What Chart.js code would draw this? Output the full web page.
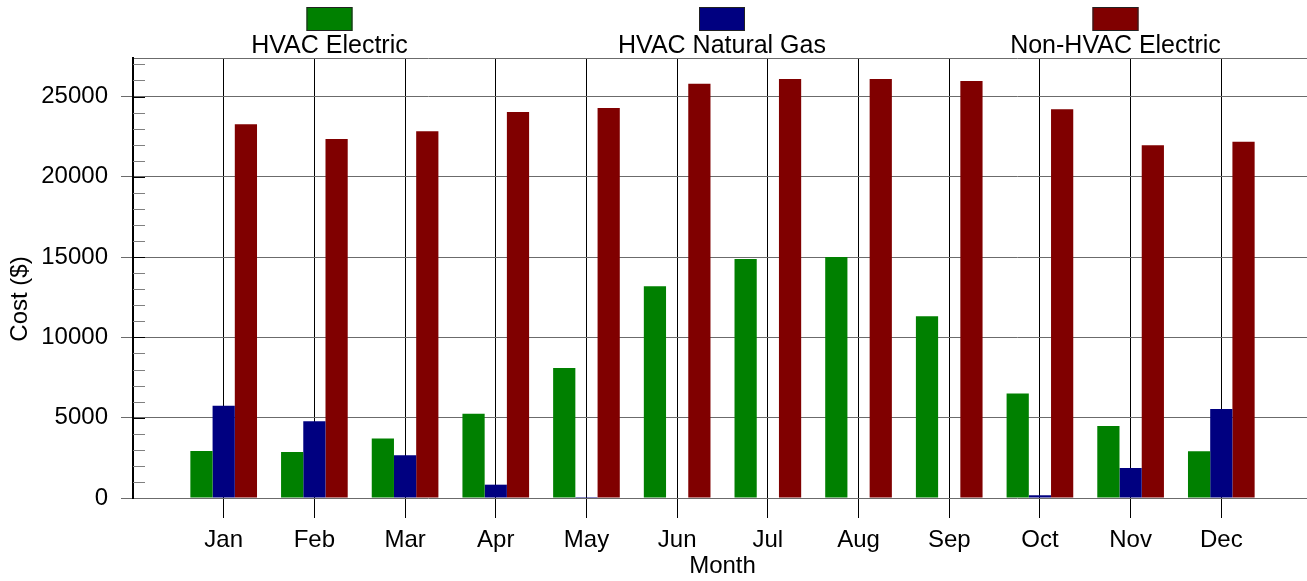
<!DOCTYPE html>
<html><head><meta charset="utf-8">
<script src="https://cdn.jsdelivr.net/npm/chart.js@4.4.1/dist/chart.umd.min.js"></script>
<style>
html,body{margin:0;padding:0;overflow:hidden;background:#fff;width:1307px;height:581px}
#wrap{width:1320px;height:581px;position:relative}
canvas{display:block}
</style></head>
<body><div id="wrap"><canvas id="c" width="1320" height="581"></canvas></div>
<script>
// ---- data ----
const months = ['Jan','Feb','Mar','Apr','May','Jun','Jul','Aug','Sep','Oct','Nov','Dec'];
const hvacElectric = [2930, 2870, 3700, 5250, 8100, 13190, 14890, 15010, 11320, 6500, 4490, 2910];
const hvacGas = [5750, 4780, 2660, 830, 60, 0, 0, 0, 0, 170, 1870, 5545];
const nonHvacElectric = [23280, 22350, 22845, 24030, 24280, 25790, 26100, 26085, 25960, 24215, 21970, 22180];
const yTickLabels = ['0','5000','10000','15000','20000','25000'];
const yMajorValues = [0, 5000, 10000, 15000, 20000, 25000];
const yMinorStep = 1000;
const seriesNames = ['HVAC Electric','HVAC Natural Gas','Non-HVAC Electric'];
const seriesColors = ['#008000','#000080','#800000'];
const yMax = 27400;
const xTitle = 'Month';
const yTitle = 'Cost ($)';

const FONT = '"Liberation Sans", Arial, sans-serif';
Chart.defaults.font.family = FONT;
Chart.defaults.font.size = 24;
Chart.defaults.color = '#000';

const labels = ['', ...months, ''];
const padArr = a => [null, ...a, null];
const seriesData = [hvacElectric, hvacGas, nonHvacElectric];

const yTickValues = [];
for (let v = 0; v <= yMax; v += yMinorStep) yTickValues.push(v);
yTickValues.push(yMax);
const isMajor = v => yMajorValues.indexOf(v) >= 0;

const topLegend = {
  id: 'topLegend',
  afterDraw(chart, args, opts) {
    const ctx = chart.ctx;
    chart.data.datasets.forEach((ds, i) => {
      const cx = opts.centers[i];
      ctx.save();
      ctx.fillStyle = ds.backgroundColor;
      ctx.fillRect(cx - 23, 7, 46, 24);
      ctx.strokeStyle = '#222';
      ctx.lineWidth = 1;
      ctx.strokeRect(cx - 22.5, 7.5, 45, 23);
      ctx.font = '25px ' + FONT;
      ctx.fillStyle = '#000';
      ctx.textAlign = 'center';
      ctx.textBaseline = 'alphabetic';
      ctx.fillText(ds.label, cx, 53);
      ctx.restore();
    });
  }
};

const axisExtras = {
  id: 'axisExtras',
  afterDraw(chart) {
    const ctx = chart.ctx;
    const ys = chart.scales.y;
    const left = chart.chartArea.left;
    ctx.save();
    ys.ticks.forEach(t => {
      if (t.value === 0 || t.value === yMax) return;
      const p = Math.round(ys.getPixelForValue(t.value)) + 0.5;
      ctx.strokeStyle = isMajor(t.value) ? '#000' : '#808080';
      ctx.lineWidth = 1;
      ctx.beginPath();
      ctx.moveTo(left, p);
      ctx.lineTo(left + 12, p);
      ctx.stroke();
    });
    // y axis title
    ctx.font = '24px ' + FONT;
    ctx.fillStyle = '#000';
    ctx.textAlign = 'center';
    ctx.textBaseline = 'middle';
    ctx.translate(20, 299);
    ctx.rotate(-Math.PI / 2);
    ctx.fillText(yTitle, 0, 0);
    ctx.restore();
  }
};

new Chart(document.getElementById('c'), {
  type: 'bar',
  data: {
    labels: labels,
    datasets: seriesNames.map((n, i) => ({
      label: n,
      data: padArr(seriesData[i]),
      backgroundColor: seriesColors[i],
      borderWidth: 0
    }))
  },
  options: {
    responsive: false,
    animation: false,
    events: [],
    categoryPercentage: 0.735,
    barPercentage: 1.0,
    layout: { padding: { top: 58, left: 0, right: 0, bottom: 0 } },
    plugins: {
      legend: { display: false },
      tooltip: { enabled: false },
      topLegend: { centers: [329.5, 722, 1115.5] }
    },
    scales: {
      x: {
        type: 'category',
        offset: false,
        afterFit: s => { s.height = 83; },
        grid: {
          offset: false,
          color: c => (c.index === 0 || c.index === labels.length - 1) ? 'rgba(0,0,0,0)' : '#000',
          tickColor: c => (c.index === 0 || c.index === labels.length - 1) ? 'rgba(0,0,0,0)' : '#000',
          tickLength: 20,
          lineWidth: 1
        },
        border: { display: false },
        ticks: { autoSkip: false, maxRotation: 0, padding: 8, font: { size: 24 } },
        title: { display: true, text: xTitle, padding: { top: 0, bottom: 0 }, font: { size: 24 } }
      },
      y: {
        min: 0,
        max: yMax,
        afterFit: s => { s.width = 133; },
        afterBuildTicks: s => { s.ticks = yTickValues.map(v => ({ value: v })); },
        grid: {
          color: c => (c.tick && (isMajor(c.tick.value) || c.tick.value === yMax)) ? '#6b6b6b' : 'rgba(0,0,0,0)',
          tickColor: c => (c.tick && isMajor(c.tick.value)) ? '#6b6b6b' : 'rgba(0,0,0,0)',
          tickLength: 12,
          lineWidth: 1
        },
        border: { display: true, color: '#000', width: 2 },
        ticks: {
          autoSkip: false,
          padding: 13,
          font: { size: 24 },
          callback: v => (isMajor(v) ? yTickLabels[yMajorValues.indexOf(v)] : '')
        }
      }
    }
  },
  plugins: [topLegend, axisExtras]
});
</script>
</body></html>
